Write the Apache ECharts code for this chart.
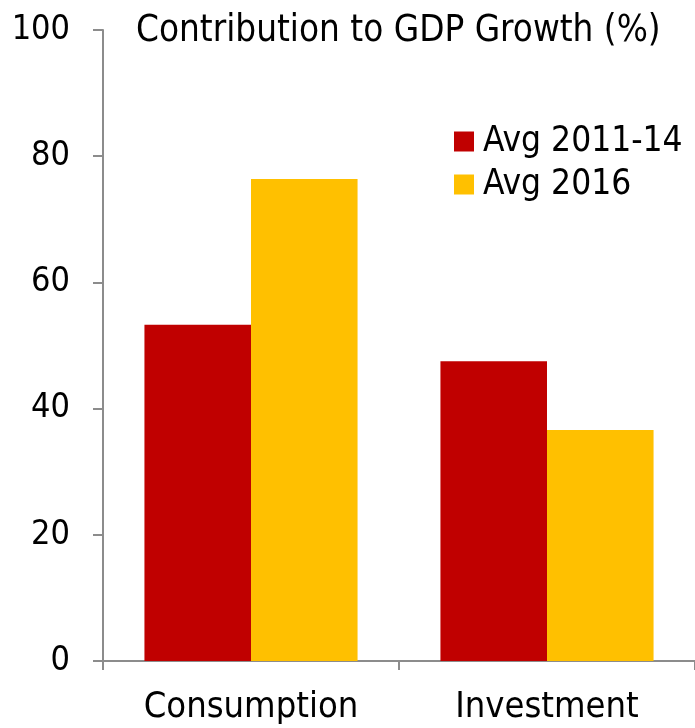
<!DOCTYPE html>
<html>
<head>
<meta charset="utf-8">
<script src="https://cdn.jsdelivr.net/npm/echarts@6/dist/echarts.min.js"></script>
<style>
  html, body { margin: 0; padding: 0; background: #fff; }
  #chart { width: 695px; height: 728px; }
</style>
</head>
<body>
<div id="chart"></div>
<script>
const categories = ["Consumption", "Investment"];
const seriesNames = ["Avg 2011-14", "Avg 2016"];
const avg201114 = [53.3, 47.5];
const avg2016 = [76.4, 36.6];
const yTicks = [0, 20, 40, 60, 80, 100];

const font = "'DejaVu Sans Condensed', 'DejaVu Sans', sans-serif";
const axisGray = "#8c8c8c";

const chart = echarts.init(document.getElementById("chart"));

const option = {
  animation: false,
  backgroundColor: "#fff",
  textStyle: { fontFamily: font, color: "#000" },
  title: {
    text: "Contribution to GDP Growth (%)",
    left: 131,
    top: 8,
    textStyle: { fontFamily: font, fontSize: 36.5, fontWeight: "normal", color: "#000" }
  },
  legend: {
    data: seriesNames,
    orient: "vertical",
    left: 449,
    top: 119,
    itemWidth: 20,
    itemHeight: 20,
    itemGap: 8,
    icon: "rect",
    textStyle: { fontFamily: font, fontSize: 35, color: "#000", padding: [0, 0, 0, 4] }
  },
  grid: { left: 103, right: -2, top: 30, bottom: 67, containLabel: false },
  xAxis: {
    type: "category",
    data: categories,
    axisLine: { lineStyle: { color: axisGray, width: 2 } },
    axisTick: { show: true, length: 9, lineStyle: { color: axisGray, width: 2 } },
    axisLabel: { fontFamily: font, fontSize: 36, color: "#000", margin: 29 }
  },
  yAxis: {
    type: "value",
    min: yTicks[0],
    max: yTicks[yTicks.length - 1],
    interval: 20,
    axisLine: { show: true, lineStyle: { color: axisGray, width: 2 } },
    axisTick: { show: true, length: 10, lineStyle: { color: axisGray, width: 2 } },
    splitLine: { show: false },
    axisLabel: { fontFamily: font, fontSize: 34, color: "#000", margin: 33 }
  },
  series: [
    {
      name: seriesNames[0],
      type: "bar",
      data: avg201114,
      itemStyle: { color: "#c00000" },
      barGap: "0%",
      barCategoryGap: "28%"
    },
    {
      name: seriesNames[1],
      type: "bar",
      data: avg2016,
      itemStyle: { color: "#ffc000" },
      barGap: "0%",
      barCategoryGap: "28%"
    }
  ]
};

chart.setOption(option);
</script>
</body>
</html>
